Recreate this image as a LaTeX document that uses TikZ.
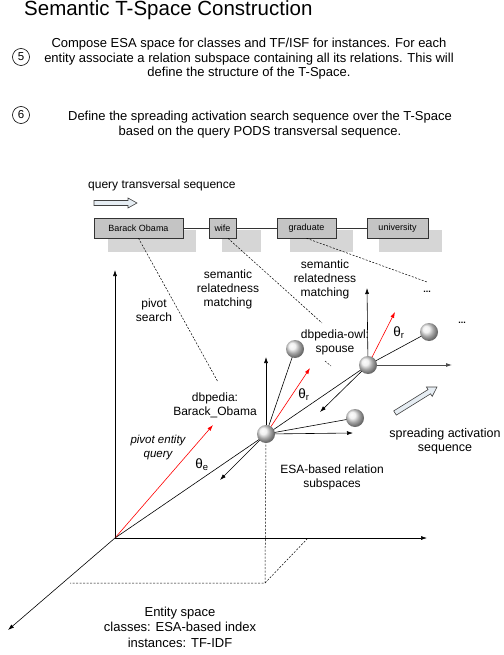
\documentclass[tikz,border=0pt]{standalone}
\usepackage{fontspec}
\setmainfont{Liberation Sans}
\usetikzlibrary{arrows.meta}
\definecolor{boxgray}{HTML}{C4C4C4}
\definecolor{shadowgray}{HTML}{D6D6D6}
\definecolor{hollowfill}{HTML}{E6EDF3}
\begin{document}
\begin{tikzpicture}[x=1pt,y=-1pt,
  ax/.style={-{Latex[length=6pt,width=4pt]}, line width=0.6pt},
  redax/.style={ax, red},
  thin line/.style={line width=0.6pt},
  dsh/.style={line width=0.5pt, dash pattern=on 2pt off 1.5pt},
  qbox/.style={draw=black!80, fill=boxgray, line width=0.6pt, minimum height=20pt, inner sep=0, font=\fontsize{9}{10}\selectfont},
  ball/.style={circle, minimum size=18pt, inner sep=0, shading=ball, ball color=gray!15},
  lbl/.style={align=center, font=\fontsize{12}{14}\selectfont, inner sep=0},
  num/.style={circle, draw, line width=0.6pt, minimum size=17pt, inner sep=0, font=\fontsize{11.5}{12}\selectfont},
  hollow/.style={draw=black!75, fill=hollowfill, line width=0.6pt, line join=miter}
]
\useasboundingbox (0,0) rectangle (503,655);

% ---- header ----
\node[anchor=west, font=\fontsize{20.5}{24}\selectfont, inner sep=0] (title) at (24,10) {Semantic T-Space Construction};
\node[num] (c5) at (21,57) {5};
\node[lbl, font=\fontsize{13}{14.5}\selectfont] (t5) at (249,59) {Compose ESA space for classes and TF/ISF for instances. For each\\entity associate a relation subspace containing all its relations. This will\\define the structure of the T-Space.};
\node[num] (c6) at (21,115) {6};
\node[lbl, font=\fontsize{13}{14.5}\selectfont] (t6) at (260,124.5) {Define the spreading activation search sequence over the T-Space\\based on the query PODS transversal sequence.};

% ---- query sequence ----
\node[lbl, anchor=west] (qts) at (88,185) {query transversal sequence};
\draw[hollow] (94,200.5) -- (128,200.5) -- (128,198) -- (137,203) -- (128,208) -- (128,205.5) -- (94,205.5) -- cycle;

\fill[shadowgray] (108,230) rectangle (196,252);
\fill[shadowgray] (222,230) rectangle (261,252);
\fill[shadowgray] (290,230) rectangle (353,252);
\fill[shadowgray] (379,230) rectangle (442,252);

\node[qbox, minimum width=89pt] (bo) at (138.5,228) {Barack Obama};
\node[qbox, minimum width=27pt] (wife) at (222.5,228) {wife};
\node[qbox, minimum width=59pt] (grad) at (306.5,228) {graduate};
\node[qbox, minimum width=61pt] (univ) at (397.5,228) {university};
\draw[thin line, black!80] (bo.east) -- (wife.west);
\draw[thin line, black!80] (wife.east) -- (grad.west);
\draw[thin line, black!80] (grad.east) -- (univ.west);

% ---- coordinates ----
\coordinate (o) at (115,538);
\coordinate (yend) at (115,270);
\coordinate (xend) at (427,538);
\coordinate (zend) at (8,630);
\coordinate (pq) at (213,425);
\coordinate (b1) at (265,583);
\coordinate (b0) at (70,583);
\coordinate (b2) at (308,538);
\coordinate (d1) at (218,382);
\coordinate (d2) at (322,323);
\coordinate (d3) at (427,282);

% sphere positions
\coordinate (p1) at (266,434);
\coordinate (p2) at (368,365);
\coordinate (pu1) at (295,349);
\coordinate (pr1) at (355,418);
\coordinate (pr2) at (429,332);

% ---- dashed guides ----
\draw[dsh] (bo.south) -- (d1);
\draw[dsh] ([xshift=5.5pt]wife.south) -- (d2);
\draw[dsh] (grad.south) -- (d3);
\draw[dsh] (p1) -- (b1) -- (b0);
\draw[dsh] (b1) -- (b2);
\draw[dsh] (325,361) -- (331,366);

% ---- main axes ----
\draw[ax] (o) -- (yend);
\draw[ax] (o) -- (xend);
\draw[ax] (o) -- (zend);
\draw[redax] (o) -- (pq);
\draw[thin line] (o) -- (p2);

% ---- sphere 1 subspace ----
\draw[ax] (p1) -- (266,357);
\draw[ax] (p1) -- (353,433);
\draw[ax] (p1) -- (220,480);
\draw[thin line] (p1) -- (pu1);
\draw[thin line] (p1) -- (pr1);
\draw[redax] (p1) -- (310,368);

% ---- sphere 2 subspace ----
\draw[ax] (p2) -- (367,288);
\draw[ax, black!70, line width=0.8pt] (p2) -- (452,365);
\draw[ax] (p2) -- (320,412);
\draw[thin line] (p2) -- (pr2);
\draw[redax] (p2) -- (395,312);

% ---- spheres ----
\node[ball] (s1) at (p1) {};
\node[ball] (s2) at (p2) {};
\node[ball] (u1) at (pu1) {};
\node[ball] (r1) at (pr1) {};
\node[ball] (r2) at (pr2) {};

% ---- spreading arrow ----
\draw[hollow] (396.3,415.1) -- (430.6,393.8) -- (432.2,396.4) -- (437,387) -- (426.4,387.0) -- (428,389.6) -- (393.7,410.9) -- cycle;

% ---- labels ----
\node[lbl] (ps) at (154,310) {pivot\\search};
\node[lbl] (srm1) at (228,289) {semantic\\relatedness\\matching};
\node[lbl] (srm2) at (325,279) {semantic\\relatedness\\matching};
\node[lbl] (spouse) at (335,342) {dbpedia-owl:\\spouse};
\node[lbl] (dbo) at (215,405) {dbpedia:\\Barack\_Obama};
\node[lbl, font=\itshape\fontsize{11.5}{14}\selectfont] (peq) at (158,448) {pivot entity\\query};
\node[lbl] (esa) at (332,477) {ESA-based relation\\subspaces};
\node[lbl, font=\fontsize{12.5}{14}\selectfont] (sas) at (445,441) {spreading activation\\sequence};
\node[lbl, font=\fontsize{13}{15.5}\selectfont] (es) at (180,627) {Entity space\\classes: ESA-based index\\instances: TF-IDF};
\node[lbl, font=\fontsize{13.5}{14}\selectfont] (te) at (202,465) {θ\textsubscript{e}};
\node[lbl, font=\fontsize{13.5}{14}\selectfont] (tr1) at (304,395) {θ\textsubscript{r}};
\node[lbl, font=\fontsize{13.5}{14}\selectfont] (tr2) at (399,333) {θ\textsubscript{r}};
\node[lbl, font=\bfseries\fontsize{9}{10}\selectfont] (dots1) at (427,292) {...};
\node[lbl, font=\bfseries\fontsize{9}{10}\selectfont] (dots2) at (462,323) {...};
\end{tikzpicture}
\end{document}
